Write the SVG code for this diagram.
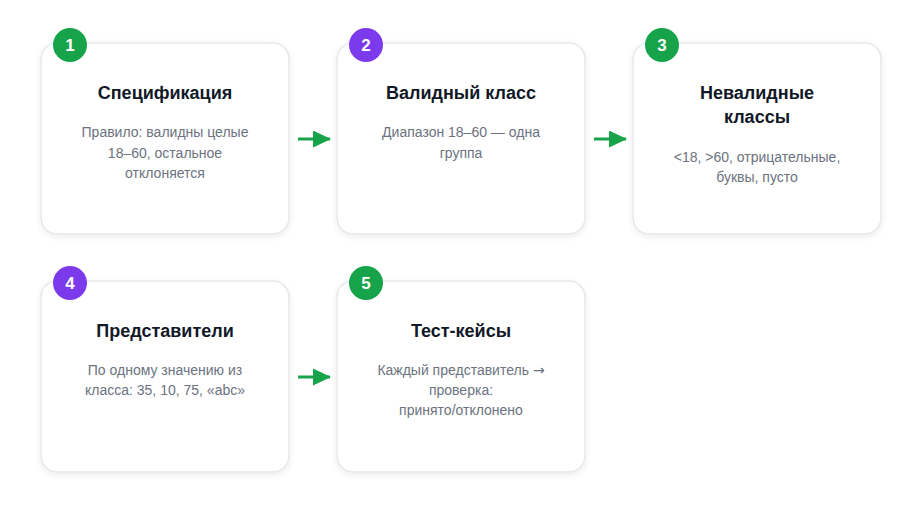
<svg xmlns="http://www.w3.org/2000/svg" width="922" height="516" viewBox="0 0 922 516">
<defs>
<filter id="sh" x="-10%" y="-10%" width="120%" height="130%">
<feDropShadow dx="0" dy="2" stdDeviation="3" flood-color="#000" flood-opacity="0.08"/>
</filter>
<marker id="ah" markerWidth="20" markerHeight="20" refX="17" refY="8.5" orient="auto" markerUnits="userSpaceOnUse">
<path d="M0,0 L18,8.5 L0,17 Z" fill="#16a34a"/>
</marker>
</defs>
<style>
.card{fill:#fff;stroke:#e5e7eb;stroke-width:1.5;filter:url(#sh)}
.t{font-family:"Liberation Sans",Arial,sans-serif;font-size:18px;font-weight:bold;fill:#111827;text-anchor:middle}
.d{font-family:"Liberation Sans",Arial,sans-serif;font-size:14px;fill:#6b7280;text-anchor:middle}
.bn{font-family:"Liberation Sans",Arial,sans-serif;font-size:17px;font-weight:bold;fill:#fff;text-anchor:middle}
.ar{font-family:"DejaVu Sans",sans-serif}
.g{fill:#16a34a}.p{fill:#7c3aed}
.c{stroke:#16a34a;stroke-width:3;fill:none;marker-end:url(#ah)}
</style>
<rect width="922" height="516" fill="#fff"/>
<g id="connectors">
<line class="c" x1="298" y1="139" x2="330" y2="139"/>
<line class="c" x1="594" y1="139" x2="626" y2="139"/>
<line class="c" x1="298" y1="377" x2="330" y2="377"/>
</g>
<g id="node1">
<rect class="card" x="41" y="43" width="248" height="191" rx="16"/>
<circle class="g" cx="70" cy="45" r="17"/>
<text class="bn" x="70" y="51">1</text>
<text class="t" x="165" y="99">Спецификация</text>
<text class="d" x="165" y="137">Правило: валидны целые</text>
<text class="d" x="165" y="158">18–60, остальное</text>
<text class="d" x="165" y="178">отклоняется</text>
</g>
<g id="node2">
<rect class="card" x="337" y="43" width="248" height="191" rx="16"/>
<circle class="p" cx="366" cy="45" r="17"/>
<text class="bn" x="366" y="51">2</text>
<text class="t" x="461" y="99">Валидный класс</text>
<text class="d" x="461" y="137">Диапазон 18–60 — одна</text>
<text class="d" x="461" y="158">группа</text>
</g>
<g id="node3">
<rect class="card" x="633" y="43" width="248" height="191" rx="16"/>
<circle class="g" cx="662" cy="45" r="17"/>
<text class="bn" x="662" y="51">3</text>
<text class="t" x="757" y="99">Невалидные</text>
<text class="t" x="757" y="123">классы</text>
<text class="d" x="757" y="162">&lt;18, &gt;60, отрицательные,</text>
<text class="d" x="757" y="182">буквы, пусто</text>
</g>
<g id="node4">
<rect class="card" x="41" y="281" width="248" height="191" rx="16"/>
<circle class="p" cx="70" cy="283" r="17"/>
<text class="bn" x="70" y="289">4</text>
<text class="t" x="165" y="337">Представители</text>
<text class="d" x="165" y="375">По одному значению из</text>
<text class="d" x="165" y="395">класса: 35, 10, 75, «abc»</text>
</g>
<g id="node5">
<rect class="card" x="337" y="281" width="248" height="191" rx="16"/>
<circle class="g" cx="366" cy="283" r="17"/>
<text class="bn" x="366" y="289">5</text>
<text class="t" x="461" y="337">Тест-кейсы</text>
<text class="d" x="461" y="375">Каждый представитель <tspan class="ar">→</tspan></text>
<text class="d" x="461" y="395">проверка:</text>
<text class="d" x="461" y="415">принято/отклонено</text>
</g>
</svg>
